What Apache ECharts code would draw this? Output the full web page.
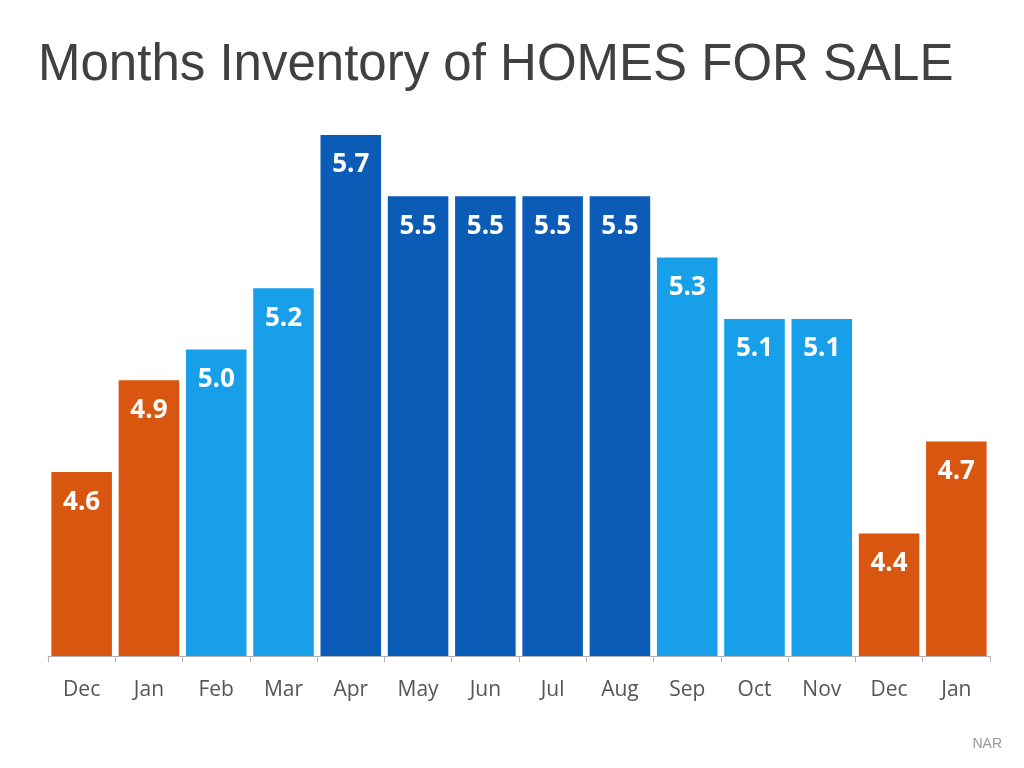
<!DOCTYPE html>
<html>
<head>
<meta charset="utf-8">
<script src="https://cdn.jsdelivr.net/npm/echarts@6/dist/echarts.min.js"></script>
<style>
html,body{margin:0;padding:0;background:#fff;}
#chart{width:1024px;height:768px;}
</style>
</head>
<body>
<div id="chart"></div>
<script>
var categories = ['Dec','Jan','Feb','Mar','Apr','May','Jun','Jul','Aug','Sep','Oct','Nov','Dec','Jan'];
var values = [4.6, 4.9, 5.0, 5.2, 5.7, 5.5, 5.5, 5.5, 5.5, 5.3, 5.1, 5.1, 4.4, 4.7];
var groups = ['winter','winter','mid','mid','peak','peak','peak','peak','peak','mid','mid','mid','winter','winter'];
var groupColors = {winter:'#D8560F', mid:'#17A0E9', peak:'#0B5CB6'};

var chart = echarts.init(document.getElementById('chart'), null, {renderer:'canvas'});
chart.setOption({
  backgroundColor:'#ffffff',
  animation:false,
  title:[{
    text:'Months Inventory of HOMES FOR SALE',
    left:33, top:35,
    textStyle:{fontFamily:'Liberation Sans, Arial, sans-serif', fontSize:51, fontWeight:'normal', color:'#404040'}
  },{
    text:'NAR',
    right:17, top:732,
    textStyle:{fontFamily:'Liberation Sans, Arial, sans-serif', fontSize:14, fontWeight:'normal', color:'#999999'}
  }],
  grid:{left:48, right:34, top:135, bottom:112, containLabel:false},
  xAxis:{
    type:'category',
    data:categories,
    axisLine:{lineStyle:{color:'#b3b3b3', width:1}},
    axisTick:{show:true, length:6, lineStyle:{color:'#b3b3b3'}},
    axisLabel:{color:'#555555', fontSize:21, fontFamily:'Open Sans, Lato, sans-serif', margin:24}
  },
  yAxis:{type:'value', min:4, max:5.7, show:false, splitLine:{show:false}},
  series:[{
    type:'bar',
    barCategoryGap:'10%',
    data:values.map(function(v,i){return {value:v, itemStyle:{color:groupColors[groups[i]]}};}),
    label:{
      show:true, position:'insideTop', distance:17,
      color:'#ffffff', fontSize:26, fontWeight:'bold', fontFamily:'Open Sans, Lato, sans-serif',
      formatter:function(p){return p.value.toFixed(1);}
    }
  }]
});
</script>
</body>
</html>
